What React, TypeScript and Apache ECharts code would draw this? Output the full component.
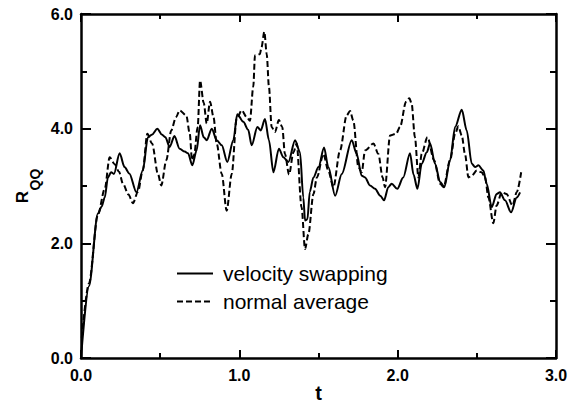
import React, { useEffect, useRef } from "react";
import * as echarts from "echarts";

// velocity swapping (solid)
const swapT = [
  0, 0.05, 0.107, 0.13, 0.15, 0.17, 0.19, 0.208, 0.244, 0.275,
  0.305, 0.35, 0.39, 0.423, 0.45, 0.482, 0.51, 0.533, 0.56, 0.59,
  0.623, 0.655, 0.676, 0.703, 0.73, 0.752, 0.775, 0.794, 0.826, 0.857,
  0.889, 0.924, 0.962, 0.987, 1.025, 1.056, 1.078, 1.114, 1.135, 1.162,
  1.187, 1.215, 1.25, 1.278, 1.31, 1.352, 1.383, 1.404, 1.415, 1.43,
  1.445, 1.468, 1.5, 1.535, 1.562, 1.605, 1.647, 1.71, 1.74, 1.773,
  1.794, 1.825, 1.857, 1.89, 1.914, 1.941, 1.962, 1.998, 2.035, 2.078,
  2.1, 2.125, 2.152, 2.184, 2.205, 2.236, 2.268, 2.295, 2.331, 2.363,
  2.405, 2.436, 2.468, 2.489, 2.51, 2.541, 2.562, 2.594, 2.625, 2.646,
  2.678, 2.716, 2.752, 2.773,
];
const swapR = [
  0, 1.25, 2.52, 2.64, 2.8, 3.15, 3.24, 3.21, 3.57, 3.33,
  3.22, 2.89, 3.27, 3.85, 3.9, 4.0, 3.9, 3.85, 3.68, 3.87,
  3.65, 3.6, 3.57, 3.36, 3.62, 4.06, 3.85, 3.8, 4.0, 3.8,
  3.71, 3.42, 3.8, 4.25, 4.12, 3.98, 3.71, 4.03, 3.97, 4.17,
  3.8, 3.24, 3.65, 3.5, 3.42, 3.8, 3.59, 2.8, 2.4, 2.42,
  2.9, 3.15, 3.33, 3.67, 3.33, 2.83, 3.21, 3.8, 3.57, 3.18,
  3.15, 3.01, 2.95, 2.83, 2.75, 2.98, 3.04, 2.95, 3.15, 3.57,
  3.2, 2.95, 3.39, 3.59, 3.74, 3.39, 3.07, 2.98, 3.45, 4.03,
  4.33, 3.97, 3.39, 3.33, 3.36, 3.27, 3.04, 2.63, 2.86, 2.89,
  2.75, 2.54, 2.8, 2.89,
];

// normal average (dashed)
const avgT = [
  0.005, 0.05, 0.107, 0.15, 0.181, 0.213, 0.24, 0.265, 0.3, 0.328,
  0.36, 0.39, 0.419, 0.449, 0.486, 0.507, 0.539, 0.57, 0.6, 0.623,
  0.665, 0.687, 0.701, 0.715, 0.737, 0.752, 0.775, 0.794, 0.815, 0.837,
  0.857, 0.889, 0.92, 0.952, 0.983, 1.015, 1.047, 1.067, 1.088, 1.099,
  1.13, 1.14, 1.158, 1.173, 1.187, 1.204, 1.225, 1.25, 1.271, 1.288,
  1.314, 1.342, 1.362, 1.393, 1.415, 1.436, 1.468, 1.49, 1.531, 1.562,
  1.594, 1.636, 1.678, 1.699, 1.72, 1.752, 1.773, 1.794, 1.847, 1.878,
  1.905, 1.92, 1.952, 1.99, 2.015, 2.053, 2.074, 2.088, 2.109, 2.131,
  2.152, 2.188, 2.23, 2.268, 2.29, 2.331, 2.363, 2.383, 2.405, 2.425,
  2.447, 2.468, 2.5, 2.53, 2.552, 2.573, 2.604, 2.625, 2.657, 2.688,
  2.725, 2.752, 2.78,
];
const avgR = [
  0.35, 1.3, 2.5, 2.95, 3.5, 3.38, 3.25, 3.04, 2.85, 2.7,
  2.9, 3.27, 3.91, 3.74, 3.21, 3.01, 3.45, 3.97, 4.2, 4.32,
  4.23, 3.91, 3.45, 3.55, 4.03, 4.84, 4.45, 4.09, 4.47, 4.2,
  3.74, 3.21, 2.57, 3.21, 4.17, 4.32, 4.2, 4.14, 4.73, 5.28,
  5.3, 5.42, 5.69, 5.3, 4.73, 4.03, 3.94, 4.15, 4.03, 3.56,
  3.2, 3.59, 3.74, 2.63, 1.9, 2.16, 2.86, 3.15, 3.56, 3.27,
  2.98, 3.62, 4.23, 4.31, 4.14, 3.33, 3.24, 3.62, 3.74, 3.56,
  3.15, 2.98, 3.88, 3.91, 4.03, 4.47, 4.53, 4.44, 3.85, 3.15,
  3.56, 3.85, 3.45, 3.04, 2.98, 3.45, 3.91, 4.04, 3.88, 3.56,
  3.15, 3.18, 3.27, 3.24, 3.15, 2.8, 2.35, 2.66, 2.89, 2.86,
  2.66, 2.89, 3.24,
];

const seriesNames = ["velocity swapping", "normal average"];
const xRange = [0, 3];
const yRange = [0, 6];

const FONT = "'Liberation Sans', Arial, Helvetica, sans-serif";

const zip = (a: number[], b: number[]) => a.map((v, i) => [v, b[i]]);

export default function App() {
  const ref = useRef<HTMLDivElement>(null);
  useEffect(() => {
    if (!ref.current) return;
    const chart = echarts.init(ref.current, null, { renderer: "svg" });
    const axisLine = { show: true, onZero: false, lineStyle: { color: "#000", width: 2.5 } };
    const label = {
      color: "#000",
      fontSize: 16,
      fontWeight: "bold",
      fontFamily: FONT,
      formatter: (v: number) => v.toFixed(1),
    };
    const mkX = (pos: string, show: boolean) => ({
      type: "value",
      position: pos,
      min: xRange[0],
      max: xRange[1],
      interval: 1,
      axisLine,
      axisTick: { show: true, inside: true, length: 8, lineStyle: { color: "#000", width: 2 } },
      minorTick: { show: true, splitNumber: 2, length: 5, lineStyle: { color: "#000", width: 2 } },
      splitLine: { show: false },
      minorSplitLine: { show: false },
      axisLabel: { show, margin: 9, ...label },
      ...(show
        ? {
            name: "t",
            nameLocation: "middle",
            nameGap: 35,
            nameMoveOverlap: false,
            nameTextStyle: {
              color: "#000",
              fontSize: 20,
              lineHeight: 20,
              fontWeight: "bold",
              fontFamily: FONT,
              verticalAlign: "middle",
            },
          }
        : {}),
    });
    const mkY = (pos: string, show: boolean) => ({
      type: "value",
      position: pos,
      min: yRange[0],
      max: yRange[1],
      interval: 2,
      axisLine,
      axisTick: { show: true, inside: true, length: 10, lineStyle: { color: "#000", width: 2 } },
      minorTick: { show: true, splitNumber: 2, length: 6, lineStyle: { color: "#000", width: 2 } },
      splitLine: { show: false },
      minorSplitLine: { show: false },
      axisLabel: { show, margin: 8, ...label },
    });
    chart.setOption({
      animation: false,
      backgroundColor: "#fff",
      grid: {
        left: 81,
        top: 14,
        width: 475,
        height: 344,
        containLabel: false,
        outerBoundsMode: "none",
      },
      xAxis: [mkX("bottom", true), mkX("top", false)],
      yAxis: [mkY("left", true), mkY("right", false)],
      legend: {
        orient: "vertical",
        left: 171,
        top: 258,
        itemWidth: 36,
        itemHeight: 14,
        itemGap: 7,
        itemStyle: { opacity: 0 },
        textStyle: { fontSize: 21, color: "#000", fontFamily: FONT, padding: [0, 0, 0, 5] },
        data: seriesNames,
      },
      graphic: [
        {
          type: "group",
          x: 22.5,
          y: 185,
          rotation: Math.PI / 2,
          children: [
            {
              type: "text",
              x: -18.3,
              y: 0,
              style: {
                text: "R",
                fontSize: 17,
                fontWeight: "bold",
                fontFamily: FONT,
                fill: "#000",
                align: "left",
                verticalAlign: "middle",
              },
            },
            {
              type: "text",
              x: -5.5,
              y: 12.5,
              style: {
                text: "QQ",
                fontSize: 14,
                fontWeight: "bold",
                fontFamily: FONT,
                fill: "#000",
                align: "left",
                verticalAlign: "middle",
              },
            },
          ],
        },
      ],
      series: [
        {
          name: seriesNames[0],
          type: "line",
          xAxisIndex: 0,
          yAxisIndex: 0,
          data: zip(swapT, swapR),
          symbol: "none",
          smooth: 0.3,
          smoothMonotone: "x",
          lineStyle: { color: "#000", width: 2, type: "solid" },
          itemStyle: { color: "#000" },
        },
        {
          name: seriesNames[1],
          type: "line",
          xAxisIndex: 0,
          yAxisIndex: 0,
          data: zip(avgT, avgR),
          symbol: "none",
          smooth: 0.3,
          smoothMonotone: "x",
          lineStyle: { color: "#000", width: 2, type: [6, 3] },
          itemStyle: { color: "#000" },
        },
      ],
    });
    return () => chart.dispose();
  }, []);
  return (
    <div
      ref={ref}
      style={{ position: "absolute", left: 0, top: 0, width: 582, height: 405 }}
    />
  );
}
